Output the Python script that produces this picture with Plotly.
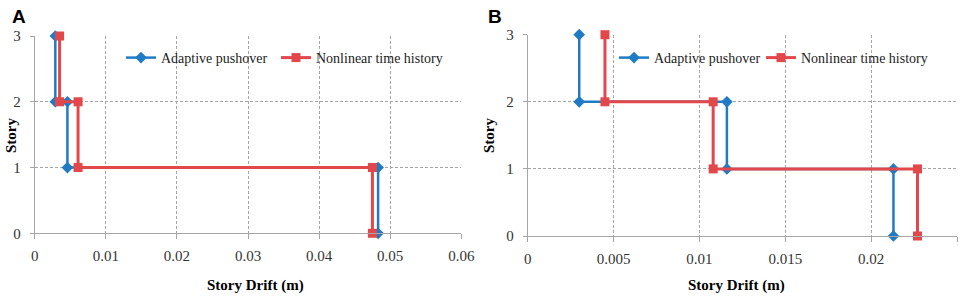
import plotly.graph_objects as go

# ---- data ----
stories = [3, 2, 2, 1, 1, 0]
story_ticks = [0, 1, 2, 3]

a_adaptive_drift = [0.0029, 0.0029, 0.0046, 0.0046, 0.0483, 0.0483]
a_nth_drift = [0.0035, 0.0035, 0.0061, 0.0061, 0.0475, 0.0475]
a_xticks = [0, 0.01, 0.02, 0.03, 0.04, 0.05, 0.06]
a_xlabels = ["0", "0.01", "0.02", "0.03", "0.04", "0.05", "0.06"]

b_adaptive_drift = [0.0030, 0.0030, 0.0116, 0.0116, 0.0213, 0.0213]
b_nth_drift = [0.0045, 0.0045, 0.0108, 0.0108, 0.0227, 0.0227]
b_xticks = [0, 0.005, 0.01, 0.015, 0.02, 0.025]
b_xlabels = ["0", "0.005", "0.01", "0.015", "0.02", "0.025"]

series_names = ["Adaptive pushover", "Nonlinear time history"]

W, H = 969, 297
BLUE = "#1f7bc4"
RED = "#e2474b"
GRID = "#a6a6a6"
SERIF = "Liberation Serif, Times New Roman, serif"
SANS = "Liberation Sans, Arial, sans-serif"

def px_x(p):
    return p / W

def px_y(p):
    return 1 - p / H

fig = go.Figure()

def add_pair(adapt, nth, xa, ya, leg1, leg2):
    fig.add_trace(go.Scatter(
        x=adapt, y=stories, name=series_names[0], mode="lines+markers",
        line=dict(color=BLUE, width=2.5),
        marker=dict(symbol="diamond", size=9, color=BLUE),
        xaxis=xa, yaxis=ya, legend=leg1, cliponaxis=False))
    fig.add_trace(go.Scatter(
        x=nth, y=stories, name=series_names[1], mode="lines+markers",
        line=dict(color=RED, width=3),
        marker=dict(symbol="square", size=9, color=RED),
        xaxis=xa, yaxis=ya, legend=leg2, cliponaxis=False))

add_pair(a_adaptive_drift, a_nth_drift, "x", "y", "legend", "legend2")
add_pair(b_adaptive_drift, b_nth_drift, "x2", "y2", "legend3", "legend4")

def xaxis(domain, rng, tv, tt, anchor):
    return dict(domain=domain, range=rng, tickvals=tv, ticktext=tt, anchor=anchor,
                showline=True, linecolor=GRID, linewidth=1,
                showgrid=True, gridcolor=GRID, griddash="3px,2px", gridwidth=1,
                zeroline=False, ticks="outside", ticklen=5, tickcolor=GRID,
                ticklabelstandoff=4,
                tickfont=dict(family=SERIF, size=15, color="#333333"))

def yaxis(domain, anchor):
    return dict(domain=domain, range=[0, 3], tickvals=story_ticks, anchor=anchor,
                showline=True, linecolor=GRID, linewidth=1,
                showgrid=True, gridcolor=GRID, griddash="3px,2px", gridwidth=1,
                zeroline=False, ticks="outside", ticklen=4, tickcolor=GRID,
                ticklabelstandoff=6,
                tickfont=dict(family=SERIF, size=15, color="#333333"))

leg_common = dict(orientation="h", bgcolor="rgba(0,0,0,0)", borderwidth=0,
                  font=dict(family=SERIF, size=14, color="#222222"),
                  xanchor="left", yanchor="middle", itemwidth=30)

fig.update_layout(
    width=W, height=H,
    margin=dict(l=0, r=0, t=0, b=0, autoexpand=False),
    paper_bgcolor="white", plot_bgcolor="white",
    xaxis=xaxis([px_x(34.7), px_x(461.3)], [0, 0.06], a_xticks, a_xlabels, "y"),
    yaxis=yaxis([px_y(233.3), px_y(36)], "x"),
    xaxis2=xaxis([px_x(527.7), px_x(957)], [0, 0.025], b_xticks, b_xlabels, "y2"),
    yaxis2=yaxis([px_y(236), px_y(34.7)], "x2"),
    legend=dict(x=px_x(121), y=px_y(58), **leg_common),
    legend2=dict(x=px_x(276), y=px_y(58), **leg_common),
    legend3=dict(x=px_x(614), y=px_y(58), **leg_common),
    legend4=dict(x=px_x(761), y=px_y(58), **leg_common),
    showlegend=True,
)

annots = [
    dict(text="<b>A</b>", x=px_x(10), y=px_y(4), xanchor="left", yanchor="top",
         font=dict(family=SANS, size=19, color="black")),
    dict(text="<b>B</b>", x=px_x(486), y=px_y(4), xanchor="left", yanchor="top",
         font=dict(family=SANS, size=19, color="black")),
    dict(text="<b>Story Drift (m)</b>", x=px_x(256), y=px_y(285), xanchor="center", yanchor="middle",
         font=dict(family=SERIF, size=15, color="black")),
    dict(text="<b>Story Drift (m)</b>", x=px_x(736), y=px_y(285), xanchor="center", yanchor="middle",
         font=dict(family=SERIF, size=15, color="black")),
    dict(text="<b>Story</b>", x=px_x(11), y=px_y(136), xanchor="center", yanchor="middle",
         textangle=-90, font=dict(family=SERIF, size=15, color="black")),
    dict(text="<b>Story</b>", x=px_x(489), y=px_y(136), xanchor="center", yanchor="middle",
         textangle=-90, font=dict(family=SERIF, size=15, color="black")),
]
for a in annots:
    a.update(xref="paper", yref="paper", showarrow=False)
fig.update_layout(annotations=annots)

fig.write_html("out.html", config={"displayModeBar": False},
               post_script="document.body.style.margin='0';document.body.style.overflow='hidden';")
